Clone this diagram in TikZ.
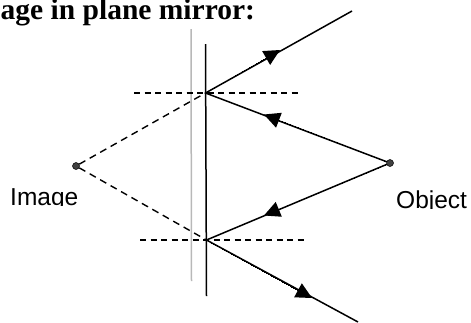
\documentclass[tikz,border=0pt]{standalone}
\usepackage{fontspec}
\setmainfont{Liberation Serif}
\newfontfamily\labelfont{Liberation Sans}
\usetikzlibrary{arrows.meta}
\tikzset{
  ray/.style={line width=1.5pt,black},
  rayhead/.style={line width=0pt,-{Triangle[length=16pt,width=16pt]}},
  mirror/.style={line width=1.5pt,black},
  ghost/.style={line width=1.5pt,black!28},
  normalline/.style={line width=1.4pt,dash pattern=on 6pt off 4.5pt},
  virtual/.style={line width=1.4pt,dash pattern=on 7pt off 5pt},
  dot/.style={circle,fill=black!75,draw=black,line width=0.5pt,inner sep=0pt,minimum size=7pt},
  lbl/.style={inner sep=0pt,anchor=base west,font=\labelfont\fontsize{24.5}{26}\selectfont}
}
\begin{document}
\begin{tikzpicture}[x=1pt,y=-1pt]
\useasboundingbox (0,0) rectangle (471,322);
\clip (0,0) rectangle (471,322);
\node[inner sep=0pt,anchor=base west,font=\bfseries\fontsize{29.5}{32}\selectfont] (title) at (0.5,19) {age in plane mirror:};
\coordinate (mt) at (205.5,44); \coordinate (mb) at (206.5,296);
\coordinate (gt) at (191,29); \coordinate (gb) at (191.5,281);
\coordinate (h1) at (205.5,93); \coordinate (h2) at (206.5,240);
\coordinate (e1) at (352,11); \coordinate (e2) at (358,322);
\coordinate (n1a) at (134,93); \coordinate (n1b) at (300,93);
\coordinate (n2a) at (140,240); \coordinate (n2b) at (306,240);
\coordinate (t1) at (280,50); \coordinate (t2) at (264,114.5);
\coordinate (t3) at (264,215.5); \coordinate (t4) at (312,298);
\node[dot] (obj) at (390,163) {};
\node[dot] (img) at (76,166) {};
\draw[ghost] (gt) -- (gb);
\draw[mirror] (mt) -- (mb);
\draw[normalline] (n1a) -- (n1b);
\draw[normalline] (n2a) -- (n2b);
\draw[virtual] (img) -- (h1);
\draw[virtual] (img) -- (h2);
\draw[ray] (obj) -- (h1);
\draw[ray] (obj) -- (h2);
\draw[ray] (h1) -- (e1);
\draw[ray] (h2) -- (e2);
\draw[rayhead] (h1) -- (t1);
\draw[rayhead] (obj) -- (t2);
\draw[rayhead] (obj) -- (t3);
\draw[rayhead] (h2) -- (t4);
\begin{scope}
\clip (0,175) rectangle (120,205.5);
\node[lbl] (image) at (10,205) {Image};
\end{scope}
\begin{scope}
\clip (390,175) rectangle (471,208.5);
\node[lbl] (object) at (396,208) {Object};
\end{scope}
\end{tikzpicture}
\end{document}
